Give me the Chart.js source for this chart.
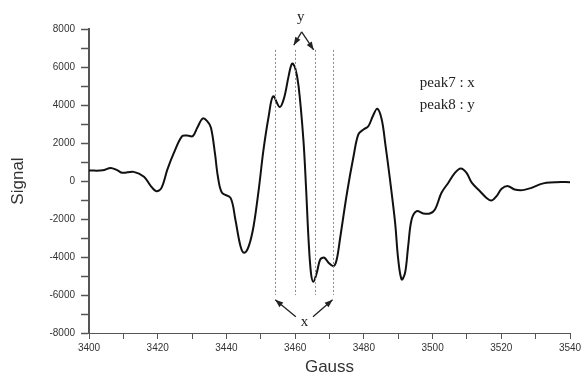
<!DOCTYPE html>
<html>
<head>
<meta charset="utf-8">
<script src="https://cdn.jsdelivr.net/npm/chart.js@4.4.1/dist/chart.umd.min.js"></script>
<style>
  html, body { margin: 0; padding: 0; background: #fff; }
  #wrap { width: 587px; height: 376px; position: relative; }
</style>
</head>
<body>
<div id="wrap"><canvas id="epr"></canvas></div>
<script>
// field (Gauss) and signal
const gauss = [3400, 3404, 3406.3, 3408.2, 3409.7, 3413, 3416, 3418, 3419.6, 3421.1,
  3422.8, 3424.7, 3427.1, 3428.6, 3430.2, 3431.5, 3433.1, 3434.4, 3435.5, 3436.7,
  3437.5, 3438.7, 3441.2, 3442.6, 3444.1, 3445.2, 3446.5, 3447.9, 3449.4, 3450.8,
  3452.3, 3453.6, 3455.5, 3456.8, 3458.1, 3459.1, 3460, 3461, 3462.4, 3463.2,
  3463.9, 3464.6, 3465.3, 3466.3, 3467.3, 3468.5, 3469.7, 3471.2, 3472.1, 3473.1,
  3475.1, 3477, 3478.4, 3479.9, 3481.3, 3482.6, 3483.9, 3485.2, 3486.2, 3487.6,
  3489.1, 3490, 3491, 3492, 3492.9, 3493.9, 3495.4, 3497.3, 3499.2, 3500.7,
  3502.6, 3504.6, 3506.5, 3508.2, 3509.9, 3511.4, 3513.8, 3515.7, 3517.2, 3518.6,
  3520.1, 3522, 3523.9, 3526.3, 3528.8, 3531.2, 3533.1, 3536, 3540];
const signal = [550, 560, 690, 570, 430, 480, 220, -270, -540, -360,
  600, 1480, 2360, 2390, 2360, 2800, 3290, 3150, 2800, 1400,
  250, -620, -890, -2030, -3430, -3780, -3430, -2380, -450, 1660,
  3410, 4460, 3890, 4380, 5520, 6180, 5960, 4990, 2180, -450,
  -3080, -4830, -5300, -4830, -4130, -4040, -4300, -4480, -4130, -3000,
  -620, 1300, 2450, 2710, 2880, 3410, 3800, 3240, 2010, 80,
  -2200, -4130, -5180, -4830, -3430, -2030, -1590, -1710, -1710, -1500,
  -620, -90, 430, 660, 430, -90, -540, -890, -1030, -800,
  -410, -270, -450, -480, -360, -180, -90, -60, -60];

const xTicks = [3400, 3420, 3440, 3460, 3480, 3500, 3520, 3540];
const yTicks = [-8000, -6000, -4000, -2000, 0, 2000, 4000, 6000, 8000];

// dotted guides around peaks 7 and 8
const guideX = [3454, 3459.9, 3465.9, 3471.1];
const legendLines = ["peak7 : x", "peak8 : y"];

const points = gauss.map((g, i) => ({ x: g, y: signal[i] }));

function arrow(ctx, x1, y1, x2, y2) {
  ctx.beginPath();
  ctx.moveTo(x1, y1);
  ctx.lineTo(x2, y2);
  ctx.stroke();
  const a = Math.atan2(y2 - y1, x2 - x1);
  const len = 8, w = 3;
  ctx.beginPath();
  ctx.moveTo(x2, y2);
  ctx.lineTo(x2 - len * Math.cos(a) + w * Math.sin(a), y2 - len * Math.sin(a) - w * Math.cos(a));
  ctx.lineTo(x2 - len * Math.cos(a) - w * Math.sin(a), y2 - len * Math.sin(a) + w * Math.cos(a));
  ctx.closePath();
  ctx.fill();
}

const marks = {
  id: "marks",
  afterDatasetsDraw(chart) {
    const { ctx, scales: { x, y } } = chart;
    ctx.save();
    ctx.strokeStyle = "#8a8a8a";
    ctx.lineWidth = 1;
    ctx.setLineDash([2, 2]);
    guideX.forEach(g => {
      const px = Math.round(x.getPixelForValue(g)) + 0.5;
      ctx.beginPath();
      ctx.moveTo(px, y.getPixelForValue(6900));
      ctx.lineTo(px, y.getPixelForValue(-6000));
      ctx.stroke();
    });
    ctx.setLineDash([]);
    ctx.strokeStyle = "#222";
    ctx.fillStyle = "#222";
    ctx.lineWidth = 1.3;
    // bottom pair -> x
    arrow(ctx, x.getPixelForValue(3460.2), y.getPixelForValue(-7150), x.getPixelForValue(3454.2), y.getPixelForValue(-6250));
    arrow(ctx, x.getPixelForValue(3465.2), y.getPixelForValue(-7150), x.getPixelForValue(3470.9), y.getPixelForValue(-6250));
    // top pair -> y
    const ax = x.getPixelForValue(3461.9), ay = y.getPixelForValue(7850);
    arrow(ctx, ax, ay, x.getPixelForValue(3459.6), y.getPixelForValue(7150));
    arrow(ctx, ax, ay, x.getPixelForValue(3465.4), y.getPixelForValue(6900));

    ctx.font = "15px 'Liberation Serif', serif";
    ctx.textAlign = "center";
    ctx.textBaseline = "middle";
    ctx.fillText("x", x.getPixelForValue(3462.7), y.getPixelForValue(-7450));
    ctx.fillText("y", x.getPixelForValue(3461.6), y.getPixelForValue(8650));

    ctx.textAlign = "left";
    ctx.fillText(legendLines[0], x.getPixelForValue(3496.3), y.getPixelForValue(5180));
    ctx.fillText(legendLines[1], x.getPixelForValue(3496.3), y.getPixelForValue(4020));
    ctx.restore();
  }
};

const tickFont = { family: "'Liberation Sans', Arial, sans-serif", size: 10 };

new Chart(document.getElementById("epr"), {
  type: "line",
  data: {
    datasets: [{
      data: points,
      borderColor: "#111",
      borderWidth: 2,
      pointRadius: 0,
      tension: 0.35,
      fill: false
    }]
  },
  options: {
    responsive: true,
    maintainAspectRatio: false,
    animation: false,
    layout: { padding: { top: 29, right: 17, left: 0, bottom: 0 } },
    plugins: { legend: { display: false }, tooltip: { enabled: false } },
    scales: {
      x: {
        type: "linear",
        min: 3400,
        max: 3540,
        afterFit(s) { s.height = 43; },
        afterBuildTicks(s) {
          const t = [];
          for (let v = 3400; v <= 3540; v += 10) t.push({ value: v });
          s.ticks = t;
        },
        ticks: {
          autoSkip: false,
          maxRotation: 0,
          padding: 3,
          color: "#333",
          font: tickFont,
          callback: v => xTicks.includes(v) ? String(v) : ""
        },
        grid: { drawOnChartArea: false, drawTicks: true, tickLength: 6, tickColor: "#555", tickWidth: 1 },
        border: { color: "#555", width: 1 },
        title: {
          display: true,
          text: "Gauss",
          color: "#333",
          font: { family: "'Liberation Sans', Arial, sans-serif", size: 17, lineHeight: 1 },
          padding: { top: 0, bottom: 0 }
        }
      },
      y: {
        min: -8000,
        max: 8000,
        afterFit(s) { s.width = 89; },
        afterBuildTicks(s) {
          const t = [];
          for (let v = -8000; v <= 8000; v += 1000) t.push({ value: v });
          s.ticks = t;
        },
        ticks: {
          autoSkip: false,
          padding: 6,
          color: "#333",
          font: tickFont,
          callback: v => yTicks.includes(v) ? String(v) : ""
        },
        grid: { drawOnChartArea: false, drawTicks: true, tickLength: 8, tickColor: "#555", tickWidth: 1.5 },
        border: { color: "#555", width: 2 },
        title: {
          display: true,
          text: "Signal",
          color: "#333",
          font: { family: "'Liberation Sans', Arial, sans-serif", size: 17, lineHeight: 1 },
          padding: { top: 10, bottom: 0 }
        }
      }
    }
  },
  plugins: [marks]
});
</script>
</body>
</html>
